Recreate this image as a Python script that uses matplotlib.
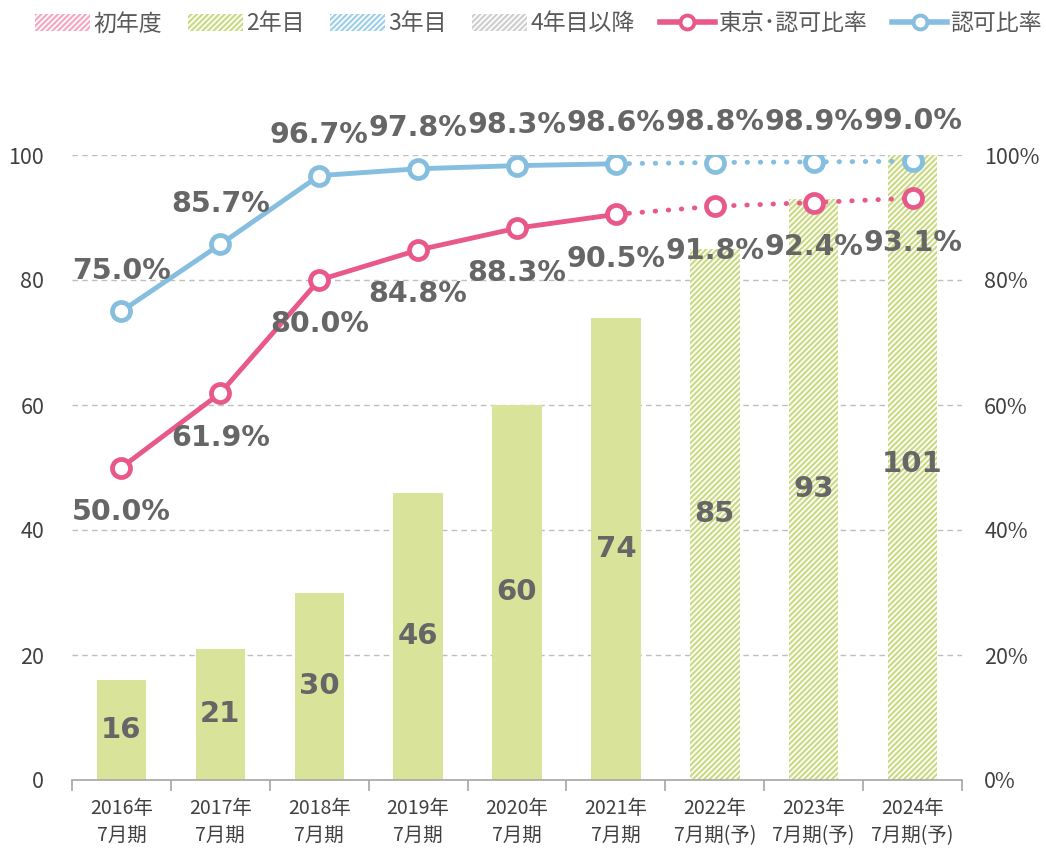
import matplotlib
matplotlib.use("Agg")
import matplotlib.pyplot as plt
from matplotlib.patches import Rectangle
from matplotlib.lines import Line2D
from matplotlib.ticker import FixedLocator, FuncFormatter

plt.rcParams['font.family'] = ['Noto Sans CJK JP', 'DejaVu Sans']
plt.rcParams['hatch.linewidth'] = 1.6

# ---- data ----
years = ["2016年\n7月期", "2017年\n7月期", "2018年\n7月期", "2019年\n7月期", "2020年\n7月期",
         "2021年\n7月期", "2022年\n7月期(予)", "2023年\n7月期(予)", "2024年\n7月期(予)"]
counts = [16, 21, 30, 46, 60, 74, 85, 93, 101]
is_forecast = [False, False, False, False, False, False, True, True, True]
tokyo_rate = [50.0, 61.9, 80.0, 84.8, 88.3, 90.5, 91.8, 92.4, 93.1]
approval_rate = [75.0, 85.7, 96.7, 97.8, 98.3, 98.6, 98.8, 98.9, 99.0]
legend_labels = ["初年度", "2年目", "3年目", "4年目以降", "東京･認可比率", "認可比率"]

GREEN = "#D9E39A"
GREEN_H = "#CBDB85"
PINK = "#E8588A"
BLUE = "#86BEDF"
LBL = "#666666"
TICK = "#404040"

fig = plt.figure(figsize=(10.46, 8.49), dpi=100)
ax = fig.add_axes([72/1046, 1-780/849, (962-72)/1046, (780-155)/849])
ax2 = ax.twinx()

x = list(range(len(years)))
for i, (c, f) in enumerate(zip(counts, is_forecast)):
    if f:
        ax.bar(i, c, width=0.5, color="white", edgecolor=GREEN_H, hatch="//////", linewidth=0, zorder=2)
    else:
        ax.bar(i, c, width=0.5, color=GREEN, linewidth=0, zorder=2)
    ax.text(i, c/2, str(c), ha="center", va="center", fontsize=21, fontweight="bold",
            color=LBL, family="DejaVu Sans", zorder=5)

ax.set_xlim(-0.5, len(years) - 0.5)
ax.set_ylim(0, 100)
ax.set_yticks([0, 20, 40, 60, 80, 100])
ax.yaxis.grid(True, linestyle=(0, (4, 3)), color="#BFBFBF", linewidth=1)
ax.set_axisbelow(True)
for s in ["top", "left", "right"]:
    ax.spines[s].set_visible(False)
ax2.spines[:].set_visible(False)
ax.spines["bottom"].set_color("#A6A6A6")
ax.spines["bottom"].set_linewidth(1.2)
ax.set_xticks(x)
ax.set_xticklabels(years, fontsize=14, color=TICK, linespacing=1.35)
ax.xaxis.set_minor_locator(FixedLocator([i - 0.5 for i in range(len(years) + 1)]))
ax.tick_params(axis="x", which="major", length=0, pad=13)
ax.tick_params(axis="x", which="minor", length=8, color="#A6A6A6", width=1.2)
ax.tick_params(axis="y", length=0, labelsize=15.5, labelcolor=TICK, pad=20)

ax2.set_ylim(0, 100)
ax2.set_yticks([0, 20, 40, 60, 80, 100])
ax2.yaxis.set_major_formatter(FuncFormatter(lambda v, p: f"{int(v)}%"))
ax2.tick_params(axis="y", length=0, labelsize=15.5, labelcolor=TICK, pad=16)

n_act = sum(1 for f in is_forecast if not f)
for vals, col, off in [(approval_rate, BLUE, 29), (tokyo_rate, PINK, -32)]:
    ax2.plot(x[:n_act], vals[:n_act], color=col, lw=3.5, zorder=3, solid_capstyle="round")
    ax2.plot(x[n_act-1:], vals[n_act-1:], color=col, lw=3.5, linestyle=(0, (0.1, 2.6)),
             dash_capstyle="round", zorder=3)
    ax2.plot(x, vals, linestyle="none", marker="o", markersize=13, markerfacecolor="white",
             markeredgecolor=col, markeredgewidth=3.4, zorder=4)
    for xi, v in zip(x, vals):
        ax2.annotate(f"{v:.1f}%", (xi, v), xytext=(0, off), textcoords="offset points",
                     ha="center", va="center", fontsize=20.5, fontweight="bold", color=LBL,
                     family="DejaVu Sans", zorder=6, annotation_clip=False)

handles = [
    Rectangle((0, 0), 1, 1, facecolor="white", edgecolor="#F4A9C3", hatch="//////", linewidth=0),
    Rectangle((0, 0), 1, 1, facecolor="white", edgecolor=GREEN_H, hatch="//////", linewidth=0),
    Rectangle((0, 0), 1, 1, facecolor="white", edgecolor="#9FD0E8", hatch="//////", linewidth=0),
    Rectangle((0, 0), 1, 1, facecolor="white", edgecolor="#CFCFCF", hatch="//////", linewidth=0),
    Line2D([], [], color=PINK, lw=4, marker="o", markersize=10, markerfacecolor="white",
           markeredgecolor=PINK, markeredgewidth=2.8),
    Line2D([], [], color=BLUE, lw=4, marker="o", markersize=10, markerfacecolor="white",
           markeredgecolor=BLUE, markeredgewidth=2.8),
]
leg = fig.legend(handles, legend_labels, loc="center", bbox_to_anchor=(0.515, 1-24/849), ncol=6,
                 frameon=False, fontsize=16.5, handlelength=2.4, handleheight=0.75,
                 handletextpad=0.15, columnspacing=1.1, labelcolor="#595959")

fig.savefig("out.png", dpi=100)
